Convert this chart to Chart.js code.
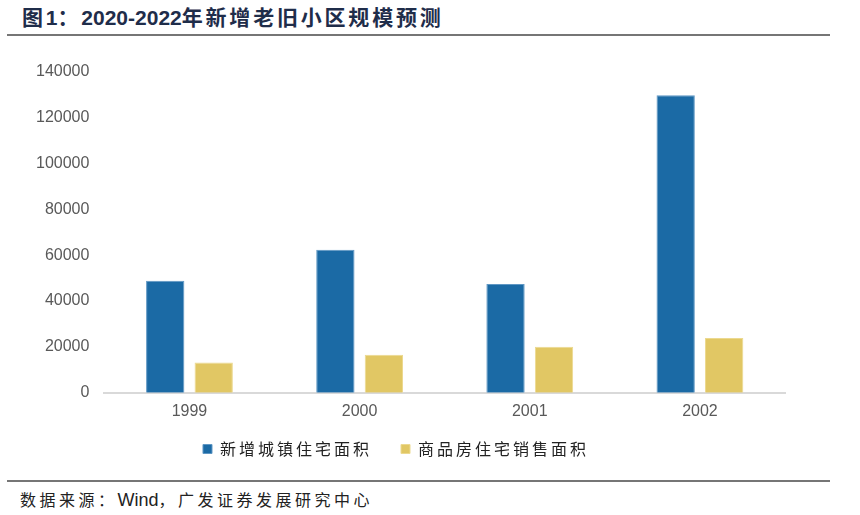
<!DOCTYPE html>
<html lang="zh">
<head>
    <meta charset="UTF-8">
    <title>2020-2022年新增老旧小区规模预测</title>
    <script src="https://cdn.jsdelivr.net/npm/chart.js"></script>
    <style>
        body {
            margin: 0;
            width: 860px;
            height: 515px;
            background: #fff;
            position: relative;
            overflow: hidden;
            font-family: "Liberation Sans", "Noto Sans CJK SC", sans-serif;
        }

        .title {
            position: absolute;
            left: 22px;
            top: 6px;
            font-size: 21px;
            line-height: 24px;
            font-weight: bold;
            color: #1f2d4a;
            white-space: nowrap;
        }
        .title .cjk { letter-spacing: 2.8px; }

        .rule {
            position: absolute;
            left: 7px;
            width: 823px;
            height: 2px;
            background: #767676;
        }

        .source {
            position: absolute;
            left: 20px;
            top: 490px;
            font-size: 16px;
            line-height: 20px;
            color: #222;
            white-space: nowrap;
        }
        .source .cjk { letter-spacing: 3.5px; }
        .source .latin { font-size: 18px; }

        .chart-box {
            position: absolute;
            left: 0;
            top: 47px;
            width: 860px;
            height: 438px;
        }
    </style>
</head>
<body>
    <div class="title"><span class="cjk">图</span>1<span class="cjk">：</span>2020-2022<span class="cjk">年新增老旧小区规模预测</span></div>
    <div class="rule" style="top: 34px;"></div>

    <div class="chart-box">
        <canvas id="areaChart"></canvas>
    </div>

    <div class="rule" style="top: 480px;"></div>
    <div class="source"><span class="cjk">数据来源：</span><span class="latin">Wind</span><span class="cjk">，广发证券发展研究中心</span></div>

    <script>
        // data
        const years = ['1999', '2000', '2001', '2002'];
        const newUrbanHousing = [48800, 62400, 47400, 129700];
        const commercialSales = [13200, 16600, 20100, 23900];
        const seriesNames = ['新增城镇住宅面积', '商品房住宅销售面积'];
        const yMax = 140000;
        const yStep = 20000;

        const tickFont = { size: 16, family: '"Liberation Sans", Arial, sans-serif' };

        const ctx = document.getElementById('areaChart').getContext('2d');
        const areaChart = new Chart(ctx, {
            type: 'bar',
            data: {
                labels: years,
                datasets: [{
                    label: seriesNames[0],
                    data: newUrbanHousing,
                    backgroundColor: '#1b6aa5',
                    borderColor: '#5f97c4',
                    borderWidth: 1,
                    categoryPercentage: 0.57,
                    barPercentage: 0.79
                }, {
                    label: seriesNames[1],
                    data: commercialSales,
                    backgroundColor: '#e1c764',
                    borderColor: '#ecd98f',
                    borderWidth: 1,
                    categoryPercentage: 0.57,
                    barPercentage: 0.79
                }]
            },
            options: {
                responsive: true,
                maintainAspectRatio: false,
                animation: false,
                layout: {
                    padding: { left: 21, right: 75, top: 5, bottom: 0 }
                },
                plugins: {
                    tooltip: { enabled: false },
                    legend: {
                        position: 'bottom',
                        labels: {
                            boxWidth: 9,
                            boxHeight: 9,
                            padding: 29,
                            color: '#222',
                            font: { size: 16, family: '"Noto Sans CJK SC", sans-serif' }
                        }
                    }
                },
                scales: {
                    x: {
                        grid: { display: false, drawTicks: false },
                        border: { color: '#d9d9d9', width: 2 },
                        ticks: { color: '#595959', padding: 9, font: tickFont }
                    },
                    y: {
                        min: 0,
                        max: yMax,
                        grid: { display: false, drawTicks: false },
                        border: { display: false },
                        ticks: {
                            stepSize: yStep,
                            color: '#595959',
                            padding: 15,
                            font: tickFont,
                            callback: (v) => String(v)
                        }
                    }
                }
            }
        });

        // legend text in the reference is widely spaced and sits a bit higher and left
        const legend = areaChart.legend;
        const legendFit = legend.fit;
        const legendDraw = legend.draw;
        legend.fit = function () {
            this.ctx.save();
            this.ctx.letterSpacing = '3px';
            legendFit.call(this);
            this.ctx.restore();
        };
        legend.draw = function () {
            this.ctx.save();
            this.ctx.letterSpacing = '3px';
            this.ctx.translate(-7, -18);
            legendDraw.call(this);
            this.ctx.restore();
        };
        areaChart.update();
    </script>
</body>
</html>
